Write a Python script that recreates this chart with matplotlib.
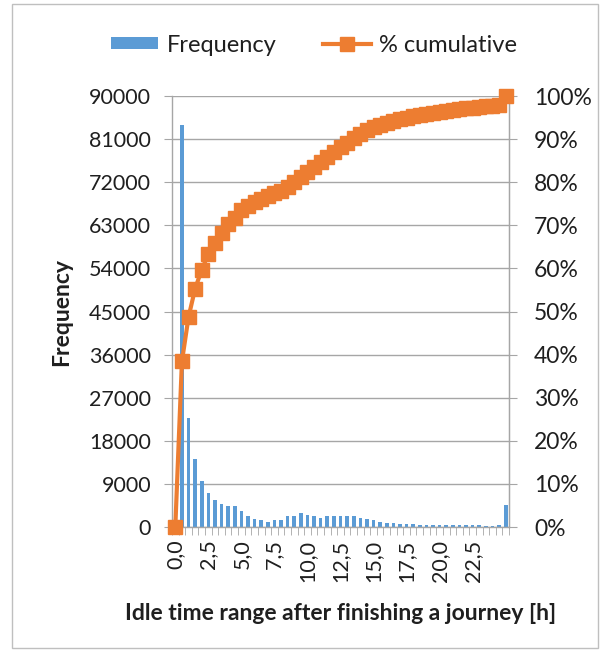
import matplotlib
matplotlib.use("Agg")
import matplotlib.pyplot as plt
from matplotlib.ticker import FuncFormatter, FixedLocator
from matplotlib.patches import Rectangle
import numpy as np

plt.rcParams['font.family'] = ['Lato', 'DejaVu Sans']

# Categories: idle time bins in hours (0.0 .. 25.0, step 0.5)
categories = [f"{h:.1f}".replace('.', ',') for h in np.arange(0, 25.01, 0.5)]

frequency = [0, 84000, 22800, 14300, 9700, 7100, 5600, 4700, 4300, 4300,
             3300, 2200, 1750, 1400, 1100, 1400, 1500, 2200, 2200, 2900,
             2500, 2200, 1900, 2200, 2200, 2400, 2400, 2200, 1950, 1700,
             1400, 1100, 900, 900, 700, 700, 700, 500, 400, 400,
             400, 400, 400, 400, 400, 400, 400, 200, 200, 350,
             4500]

cumulative_pct = [0, 38.4, 48.7, 55.3, 59.7, 63.3, 65.8, 68.1, 70.2, 71.8,
                  73.5, 74.5, 75.3, 76.1, 76.8, 77.4, 78.0, 78.9, 80.0, 81.1,
                  82.3, 83.5, 84.6, 85.8, 86.9, 88.1, 89.2, 90.3, 91.2, 92.0,
                  92.7, 93.3, 93.8, 94.2, 94.6, 95.0, 95.3, 95.6, 95.9, 96.1,
                  96.3, 96.5, 96.7, 96.9, 97.1, 97.3, 97.5, 97.6, 97.7, 97.9,
                  100]

label_every = 5
shown_labels = categories[:46:label_every]  # 0,0 ... 22,5

left_ticks = [0, 9000, 18000, 27000, 36000, 45000, 54000, 63000, 72000, 81000, 90000]
right_ticks = [0, 10, 20, 30, 40, 50, 60, 70, 80, 90, 100]

BLUE = '#5B9BD5'
ORANGE = '#ED7D31'
GRID = '#A6A6A6'
TXT = '#1F1F1F'

fig = plt.figure(figsize=(6.05, 6.55), dpi=100)
fig.patches.append(Rectangle((12 / 605, 1 - 648 / 655), 586 / 605, 644 / 655,
                             transform=fig.transFigure, fill=False,
                             edgecolor='#BFBFBF', linewidth=1.0))

ax = fig.add_axes([172 / 605, 1 - 527 / 655, (509 - 172) / 605, (527 - 96) / 655])
x = np.arange(len(categories))
bars = ax.bar(x, frequency, width=0.55, color=BLUE, zorder=2, label='Frequency')
ax.set_xlim(-0.5, len(categories) - 0.5)
ax.set_ylim(0, 90000)
ax.set_yticks(left_ticks)
ax.set_yticklabels([str(v) for v in left_ticks])
ax.yaxis.grid(True, color=GRID, linewidth=1.0, zorder=0)
ax.set_axisbelow(True)

ax.set_xticks(np.arange(0, 46, label_every))
ax.set_xticklabels(shown_labels, rotation=90)
ax.xaxis.set_minor_locator(FixedLocator(np.arange(-0.5, len(categories), 1.0)))
ax.tick_params(axis='x', which='major', length=0, pad=9, labelsize=15.5, labelcolor=TXT)
ax.tick_params(axis='x', which='minor', length=6, color=GRID, direction='out')
ax.tick_params(axis='y', length=6, color=GRID, labelsize=15.5, labelcolor=TXT, pad=9)

ax.spines['top'].set_visible(False)
for s in ['left', 'right', 'bottom']:
    ax.spines[s].set_color(GRID)
    ax.spines[s].set_linewidth(1.0)

ax.set_ylabel('Frequency', fontsize=16.5, fontweight='bold', color=TXT, labelpad=12)
ax.set_xlabel('Idle time range after finishing a journey [h]', fontsize=16.5,
              fontweight='bold', color=TXT, labelpad=15)

ax2 = ax.twinx()
line, = ax2.plot(x, cumulative_pct, color=ORANGE, linewidth=3.0, marker='s',
                 markersize=9.5, clip_on=False, zorder=5, label='% cumulative')
ax2.set_ylim(0, 100)
ax2.set_yticks(right_ticks)
ax2.yaxis.set_major_formatter(FuncFormatter(lambda v, p: f"{v:.0f}%"))
ax2.tick_params(axis='y', length=6, color=GRID, labelsize=16.5, labelcolor=TXT, pad=12)
for s in ['top', 'left', 'bottom']:
    ax2.spines[s].set_visible(False)
ax2.spines['right'].set_color(GRID)

fig.legend(handles=[bars, line], labels=['Frequency', '% cumulative'],
           loc='center', bbox_to_anchor=(314 / 605, 1 - 45 / 655), ncol=2,
           frameon=False, fontsize=17, handlelength=2.0, handleheight=0.45,
           handletextpad=0.35, columnspacing=2.0, labelcolor=TXT)

fig.savefig('out.png', dpi=100)
